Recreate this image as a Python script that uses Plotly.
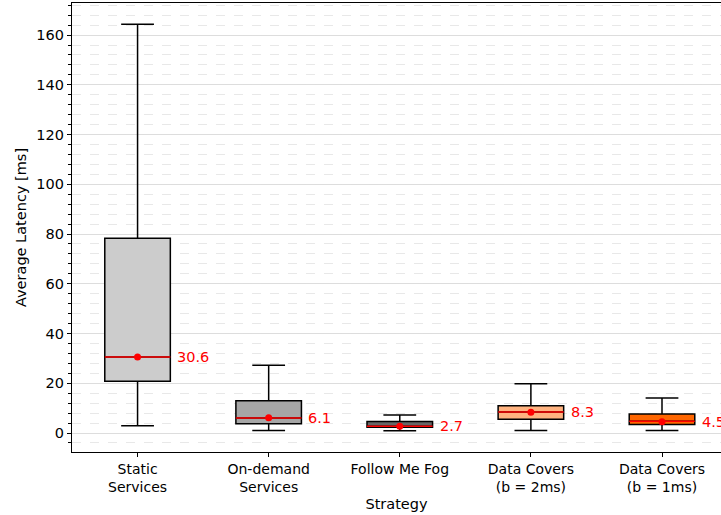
import plotly.graph_objects as go

# Latency summary per strategy (ms)
strategies = ["Static<br>Services", "On-demand<br>Services", "Follow Me Fog",
              "Data Covers<br>(b = 2ms)", "Data Covers<br>(b = 1ms)"]
lower_whisker = [2.9, 1.0, 0.9, 1.0, 1.0]
q1 = [20.8, 3.7, 2.3, 5.5, 3.4]
median = [30.6, 6.0, 2.7, 8.4, 4.7]
q3 = [78.3, 13.0, 4.6, 11.0, 7.6]
upper_whisker = [164.4, 27.2, 7.2, 19.8, 14.1]
mean = [30.6, 6.1, 2.7, 8.3, 4.5]
fill_colors = ["#cccccc", "#a6a6a6", "#666666", "#ffb380", "#ff6600"]

positions = list(range(1, len(strategies) + 1))
box_width = 0.5
font_family = "DejaVu Sans"

fig = go.Figure()

for i, pos in enumerate(positions):
    fig.add_trace(go.Box(
        x=[pos],
        q1=[q1[i]], median=[median[i]], q3=[q3[i]],
        lowerfence=[lower_whisker[i]], upperfence=[upper_whisker[i]],
        width=box_width,
        whiskerwidth=0.5,
        fillcolor=fill_colors[i],
        line=dict(color="black", width=1.5),
        boxpoints=False,
        showlegend=False,
        hoverinfo="skip",
    ))

# red median lines spanning the box width
mx, my = [], []
for pos, m in zip(positions, median):
    mx += [pos - box_width / 2, pos + box_width / 2, None]
    my += [m, m, None]
fig.add_trace(go.Scatter(x=mx, y=my, mode="lines",
                         line=dict(color="red", width=1.5),
                         showlegend=False, hoverinfo="skip"))

# mean markers
fig.add_trace(go.Scatter(x=positions, y=mean, mode="markers",
                         marker=dict(color="red", size=7),
                         showlegend=False, hoverinfo="skip"))

# mean value labels to the right of each box
for pos, m in zip(positions, mean):
    fig.add_annotation(x=pos + box_width / 2, y=m, text=f"{m:.1f}",
                       xanchor="left", yanchor="middle", xshift=5,
                       showarrow=False,
                       font=dict(family=font_family, size=14.5, color="red"))

fig.update_layout(
    width=721, height=515,
    margin=dict(l=72, r=0, t=3, b=63),
    plot_bgcolor="white", paper_bgcolor="white",
    font=dict(family=font_family, size=14, color="black"),
)

fig.update_xaxes(
    range=[0.5, 5.45],
    tickvals=positions, ticktext=strategies,
    ticks="outside", ticklen=4, tickcolor="black",
    showgrid=False, zeroline=False,
    showline=True, linecolor="black", linewidth=1.2, mirror=True,
    title=dict(text="Strategy", standoff=4, font=dict(size=14.5)),
    tickfont=dict(size=14),
)

fig.update_yaxes(
    range=[-7.64, 172.9],
    tick0=0, dtick=20,
    ticks="outside", ticklen=4, tickcolor="black",
    showgrid=True, gridcolor="#dddddd", gridwidth=1.2,
    zeroline=False,
    showline=True, linecolor="black", linewidth=1.2, mirror=False,
    minor=dict(dtick=4, tick0=0, ticks="outside", ticklen=2.5, tickcolor="black",
               showgrid=True, gridcolor="#e8e8e8", griddash="dash", gridwidth=1),
    title=dict(text="Average Latency [ms]", standoff=6, font=dict(size=14.5)),
    tickfont=dict(size=14.5),
)

fig.write_html("out.html")
